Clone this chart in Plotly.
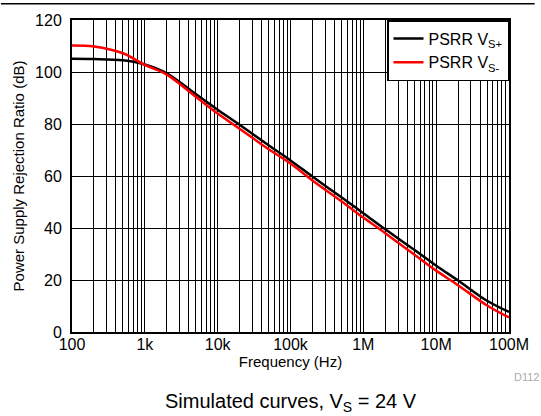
import plotly.graph_objects as go

freq_hz = [100, 200, 500, 1e3, 2e3, 5e3, 1e4, 2e4, 5e4, 1e5, 2e5, 5e5,
           1e6, 2e6, 5e6, 1e7, 2e7, 5e7, 1e8]
psrr_pos = [105.1, 105.0, 104.5, 102.9, 99.5, 91.5, 85.5, 79.7, 71.8, 66.0,
            59.8, 51.8, 45.7, 39.5, 31.6, 25.5, 19.8, 12.0, 7.7]
psrr_neg = [110.2, 109.8, 107.2, 102.7, 99.0, 90.5, 84.0, 78.2, 70.3, 64.8,
            58.3, 50.3, 44.0, 38.0, 29.8, 23.6, 18.0, 10.2, 5.6]

major_labels = {100: "100", 1e3: "1k", 1e4: "10k", 1e5: "100k",
                1e6: "1M", 1e7: "10M", 1e8: "100M"}
tick_vals = []
tick_text = []
for d in range(2, 8):
    for m in range(1, 10):
        v = m * 10 ** d
        tick_vals.append(v)
        tick_text.append(major_labels.get(v, ""))
tick_vals.append(1e8)
tick_text.append("100M")

FONT = "Liberation Sans, Arial, sans-serif"

fig = go.Figure()
fig.add_trace(go.Scatter(x=freq_hz, y=psrr_pos, mode="lines",
                         name="PSRR V<sub>S+</sub>",
                         line=dict(color="black", width=2.5, shape="spline", smoothing=1)))
fig.add_trace(go.Scatter(x=freq_hz, y=psrr_neg, mode="lines",
                         name="PSRR V<sub>S-</sub>",
                         line=dict(color="#ff0000", width=2.5, shape="spline", smoothing=1)))

fig.update_layout(
    width=541, height=416,
    margin=dict(l=72, r=26, t=17, b=84),
    paper_bgcolor="white", plot_bgcolor="white",
    font=dict(family=FONT, color="black", size=15),
    showlegend=True,
    legend=dict(x=1, y=1, xanchor="right", yanchor="top",
                bgcolor="white", bordercolor="black", borderwidth=1.5,
                font=dict(size=16, family=FONT), tracegroupgap=0,
                itemwidth=30),
    xaxis=dict(type="log", range=[2, 8], tickmode="array",
               tickvals=tick_vals, ticktext=tick_text, tickangle=0,
               showgrid=True, gridcolor="black", gridwidth=1,
               showline=True, linecolor="black", linewidth=2, mirror=True,
               ticks="", zeroline=False, ticklabelstandoff=-3,
               tickfont=dict(size=16),
               title=dict(text="Frequency (Hz)", font=dict(size=15), standoff=0)),
    yaxis=dict(range=[0, 120], dtick=20, tick0=0,
               showgrid=True, gridcolor="black", gridwidth=1,
               showline=True, linecolor="black", linewidth=2, mirror=True,
               ticks="", zeroline=False, ticklabelstandoff=5,
               tickfont=dict(size=16),
               title=dict(text="Power Supply Rejection Ratio (dB)",
                          font=dict(size=15), standoff=7)),
    shapes=[dict(type="line", xref="paper", yref="paper",
                 x0=-72 / 443, x1=1 + 26 / 443, y0=1 + 16.5 / 315, y1=1 + 16.5 / 315,
                 line=dict(color="black", width=1.5))],
    annotations=[
        dict(text="Simulated curves, V<sub>S</sub> = 24 V", xref="paper", yref="paper",
             x=0.5, y=-71 / 315, xanchor="center", yanchor="middle",
             showarrow=False, font=dict(size=20, family=FONT)),
        dict(text="D112", xref="paper", yref="paper",
             x=1 + 32 / 443, y=-45 / 315, xanchor="right", yanchor="middle",
             showarrow=False, font=dict(size=11, family=FONT, color="#aaaaaa")),
    ],
)

fig.write_html("out.html", config={"displayModeBar": False},
               post_script="document.body.style.margin='0';document.body.style.overflow='hidden';")
